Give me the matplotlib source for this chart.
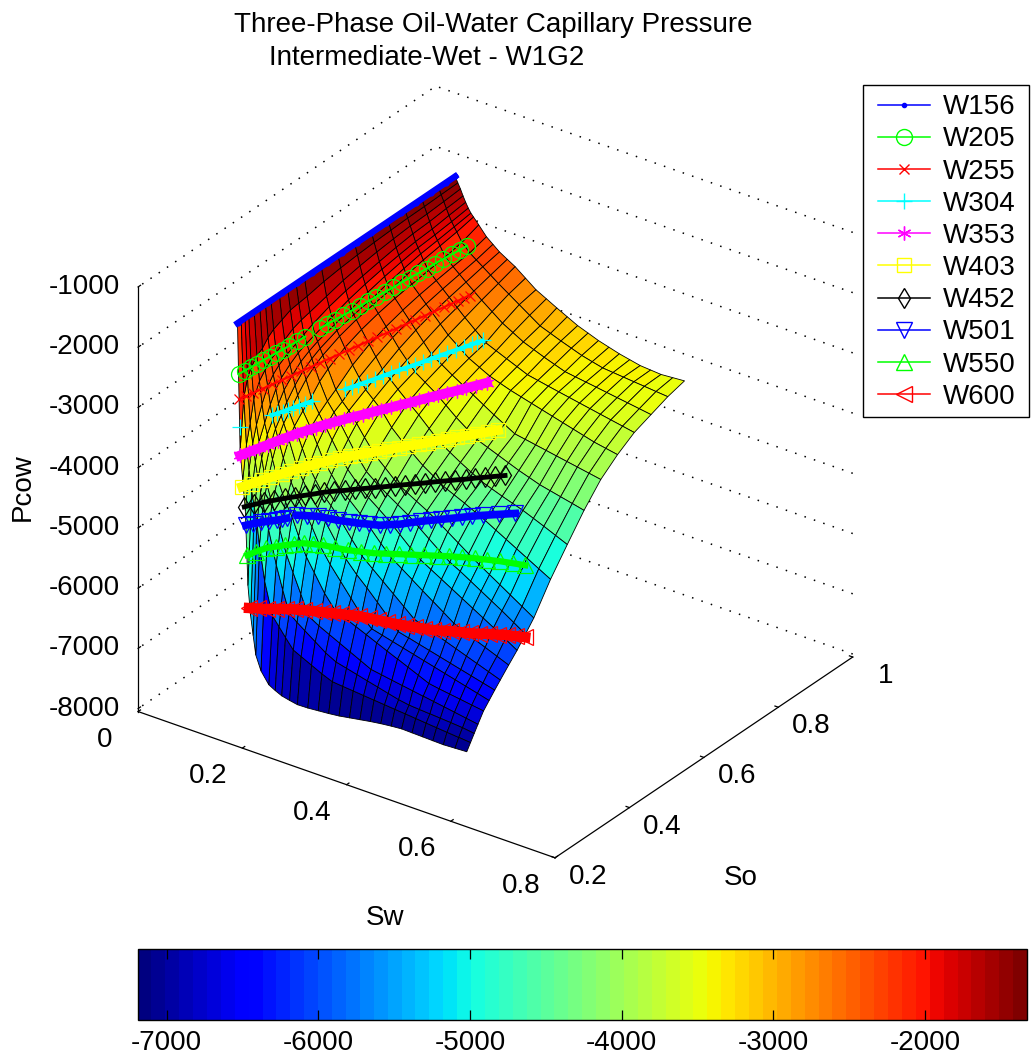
import matplotlib
matplotlib.use("Agg")
import numpy as np
import matplotlib.pyplot as plt
from matplotlib.cm import ScalarMappable
from matplotlib.colors import Normalize
from matplotlib.lines import Line2D
from matplotlib.patches import Rectangle
from mpl_toolkits.mplot3d import proj3d

plt.rcParams["font.family"] = ["Liberation Sans", "DejaVu Sans"]
plt.rcParams["axes.unicode_minus"] = False

FONT = 20
W, H = 1033, 1057

# surface grid (much coarser than the original mesh)
sw_nodes = [.155, .16, .165, .17, .175, .18, .185, .19, .2, .215, .2275, .24, .255, .27, .29, .31, .33, .35, .37, .39,
            .41, .43, .45, .47, .49, .51, .53, .55, .5725, .595]
so_nodes = [.25, .26, .27, .28, .295, .31, .325, .34, .3625, .385, .4075, .43, .475, .52, .565, .61, .655, .7, .745, .79, .835]
pcow_rows = [
    [-1340, -3440, -3920, -4405, -5630, -6110, -6430, -6740, -6975, -7160, -7220, -7270, -7300, -7325, -7320, -7305, -7290, -7270, -7240, -7210, -7180, -7155, -7135, -7120, -7125, -7130, -7135, -7140, -7130, -7120],
    [-1340, -2595, -3365, -3757, -4098, -4356, -4597, -4958, -5525, -6057, -6199, -6341, -6504, -6567, -6650, -6733, -6803, -6819, -6834, -6850, -6866, -6881, -6897, -6912, -6928, -6944, -6959, -6975, -6992, -7010],
    [-1340, -2318, -3050, -3365, -3659, -3923, -4142, -4328, -4693, -5246, -5629, -5975, -6086, -6179, -6302, -6426, -6517, -6560, -6604, -6648, -6691, -6735, -6778, -6807, -6820, -6832, -6845, -6857, -6873, -6900],
    [-1340, -2180, -2686, -3102, -3365, -3626, -3868, -4033, -4321, -4714, -5082, -5342, -5654, -5978, -6080, -6164, -6248, -6332, -6416, -6500, -6528, -6557, -6585, -6613, -6641, -6670, -6698, -6726, -6758, -6790],
    [-1340, -2053, -2457, -2822, -3120, -3295, -3482, -3678, -3983, -4312, -4520, -4800, -5101, -5315, -5600, -5822, -5897, -5971, -6045, -6120, -6195, -6269, -6344, -6418, -6493, -6523, -6548, -6573, -6602, -6630],
    [-1340, -1990, -2336, -2595, -2879, -3107, -3250, -3394, -3688, -4043, -4275, -4434, -4664, -4926, -5184, -5404, -5624, -5844, -6014, -6059, -6104, -6149, -6194, -6239, -6284, -6329, -6374, -6419, -6469, -6520],
    [-1340, -1876, -2226, -2457, -2686, -2914, -3095, -3207, -3443, -3835, -4050, -4252, -4416, -4593, -4866, -5101, -5292, -5455, -5632, -5810, -6000, -6044, -6089, -6133, -6177, -6222, -6266, -6310, -6360, -6410],
    [-1340, -1800, -2180, -2369, -2557, -2747, -2936, -3089, -3286, -3611, -3870, -4054, -4258, -4396, -4596, -4830, -5051, -5200, -5348, -5496, -5644, -5793, -5860, -5920, -5982, -6043, -6105, -6166, -6235, -6305],
    [-1340, -1737, -2053, -2276, -2435, -2595, -2747, -2898, -3129, -3365, -3600, -3835, -4020, -4193, -4341, -4503, -4687, -4878, -5054, -5174, -5294, -5415, -5535, -5656, -5776, -5855, -5925, -5994, -6072, -6150],
    [-1340, -1669, -1963, -2206, -2336, -2465, -2595, -2729, -2996, -3221, -3403, -3584, -3800, -3981, -4170, -4330, -4460, -4597, -4758, -4918, -5060, -5160, -5260, -5360, -5460, -5560, -5660, -5760, -5880, -6000],
    [-1340, -1647, -1912, -2135, -2270, -2382, -2494, -2606, -2828, -3108, -3254, -3406, -3615, -3823, -4052, -4191, -4308, -4419, -4532, -4668, -4805, -4941, -5069, -5162, -5265, -5369, -5472, -5575, -5700, -5825],
    [-1340, -1628, -1876, -2066, -2220, -2318, -2417, -2516, -2714, -3010, -3170, -3284, -3452, -3637, -3867, -4025, -4187, -4298, -4395, -4491, -4603, -4723, -4844, -4964, -5079, -5188, -5296, -5405, -5527, -5650],
    [-1340, -1570, -1800, -1958, -2117, -2228, -2307, -2388, -2547, -2790, -2957, -3123, -3244, -3365, -3600, -3765, -3907, -4049, -4163, -4277, -4355, -4432, -4517, -4601, -4697, -4792, -4887, -4982, -5089, -5195],
    [-1340, -1532, -1723, -1881, -2017, -2153, -2234, -2300, -2434, -2635, -2803, -2970, -3092, -3214, -3370, -3519, -3685, -3851, -3958, -4065, -4161, -4257, -4320, -4383, -4440, -4498, -4568, -4639, -4722, -4805],
    [-1340, -1504, -1669, -1824, -1943, -2061, -2180, -2238, -2353, -2526, -2672, -2817, -2963, -3108, -3225, -3342, -3485, -3629, -3752, -3875, -3942, -4009, -4076, -4143, -4200, -4258, -4297, -4336, -4380, -4425],
    [-1340, -1484, -1628, -1771, -1884, -1990, -2096, -2190, -2291, -2443, -2570, -2698, -2853, -3008, -3120, -3233, -3336, -3439, -3545, -3650, -3746, -3843, -3874, -3905, -3936, -3968, -3999, -4030, -4065, -4100],
    [-1340, -1468, -1596, -1723, -1838, -1933, -2028, -2123, -2243, -2378, -2491, -2604, -2740, -2877, -3010, -3142, -3230, -3317, -3375, -3432, -3478, -3525, -3571, -3617, -3664, -3710, -3756, -3803, -3839, -3875],
    [-1340, -1455, -1570, -1685, -1800, -1886, -1973, -2059, -2204, -2327, -2428, -2530, -2652, -2774, -2922, -3071, -3143, -3215, -3286, -3358, -3392, -3427, -3460, -3492, -3525, -3557, -3590, -3622, -3658, -3695],
    [-1340, -1450, -1559, -1669, -1778, -1861, -1937, -2013, -2165, -2282, -2373, -2464, -2568, -2673, -2803, -2933, -3028, -3123, -3190, -3256, -3315, -3374, -3400, -3425, -3450, -3476, -3502, -3527, -3556, -3585],
    [-1340, -1440, -1540, -1640, -1740, -1828, -1899, -1969, -2110, -2242, -2320, -2397, -2490, -2583, -2698, -2814, -2929, -3044, -3108, -3173, -3232, -3292, -3335, -3377, -3393, -3409, -3425, -3440, -3458, -3475],
    [-1340, -1432, -1517, -1618, -1708, -1790, -1858, -1907, -2007, -2161, -2249, -2337, -2414, -2490, -2621, -2752, -2842, -2933, -3019, -3105, -3168, -3232, -3281, -3330, -3367, -3404, -3417, -3430, -3415, -3400],
]

nan = float("nan")

# lines drawn over the surface, nan = part hidden by the surface
w156_sw = [.155] * 16
w156_so = [.25, .29, .33, .37, .41, .45, .49, .53, .57, .61, .65, .69, .73, .77, .81, .835]
w156_p = [-1340] * 16

w205_sw = [.157, .158, .160, .161, .162, .164, .165, .167, .168, .170, .171, nan, .174, .175, .177, .179, .181, .183, .184, .186, .188, .190, .191, .193, .195, .197, .198, .200, .202, .204, .205]
w205_so = [.25, .265, .28, .295, .31, .325, .34, .355, .37, .39, .41, nan, .445, .4625, .48, .50, .52, .54, .56, .58, .60, .62, .64, .66, .68, .70, .72, .74, .76, .78, .796]
w205_p = [-2180] * 31

w255_sw = [.158, .161, .164, .168, .172, .176, .180, .184, .188, .192, .196, .200, .204, .208, .212, .216, .220, .224, .228, .232, .236, .240, .244, .247, .250, .252, .255]
w255_so = [.25, .265, .28, .30, .32, .34, .36, .38, .40, .42, .44, .46, .48, .50, .52, .54, .56, .58, .60, .62, .64, .66, .68, .695, .71, .722, .734]
w255_p = [-2595] * 27

w304_sw = [.159, nan, .178, .181, .185, .188, .191, .194, .198, .202, nan, .222, .226, .230, .235, .240, .244, .249, .254, .259, .264, .269, .273, .278, .283, .288, .293, .298, .301, .304]
w304_so = [.25, nan, .31, .32, .33, .34, .35, .36, .37, .384, nan, .446, .458, .47, .485, .50, .515, .53, .545, .56, .575, .59, .605, .62, .635, .65, .665, .68, .69, .70]
w304_p = [-3050] * 30

w353_sw = [.160, .167, .175, .182, .189, .197, .204, .212, .219, .226, .234, .241, .248, .256, .263, .270, .278, .285, .293, .300, .307, .315, .322, .330, .337, .345, .353]
w353_so = [.25, .265, .28, .295, .31, .325, .34, .355, .37, .385, .40, .415, .43, .445, .46, .475, .49, .505, .52, .535, .55, .565, .58, .595, .61, .626, .643]
w353_p = [-3520, -3500, -3480, -3460, -3440, -3420, -3400, -3390, -3380, -3372] + [-3365] * 17

w403_sw = [.164, .173, .182, .191, .201, .210, .219, .228, .237, .246, .255, .264, .274, .283, .292, .301, .310, .319, .329, .338, .347, .356, .365, .374, .383, .393, .403]
w403_so = [.25, .2635, .277, .2905, .304, .3175, .331, .3445, .358, .3715, .385, .3985, .412, .4255, .439, .4525, .466, .4795, .493, .5065, .52, .5335, .547, .5605, .574, .5885, .603]
w403_p = [-4030, -4005, -3980, -3955, -3930, -3910, -3890, -3875, -3860, -3847] + [-3835] * 17

w452_sw = [.168, .179, .190, .201, .212, .223, .234, .245, .255, .266, .278, .288, .299, .310, .321, .332, .343, .354, .365, .375, .386, .397, .409, .419, .430, .441, .452]
w452_so = [.25, .2615, .273, .285, .297, .3085, .32, .3315, .343, .355, .367, .3785, .39, .4015, .413, .425, .437, .4485, .46, .4715, .483, .495, .507, .5185, .53, .5415, .553]
w452_p = [-4350, -4325, -4300, -4285, -4270, -4260, -4250, -4240] + [-4230] * 19

w501_sw = [.171, .180, .190, .199, .209, .215, .221, nan, .234, .246, .259, .271, .284, .297, .310, .322, .335, .347, .360, .372, .385, .397, .410, .423, .436, .448, .461, .481, .501]
w501_so = [.25, .2575, .265, .2725, .28, .285, .29, nan, .30, .31, .32, .33, .34, .35, .36, .37, .38, .39, .40, .41, .42, .43, .44, .45, .46, .47, .48, .496, .512]
w501_p = [-4646, -4623, -4600, -4586, -4573, -4559, -4545, nan, -4497, -4510, -4523, -4560, -4596, -4623, -4650, -4670, -4690, -4685, -4680, -4660, -4640, -4628, -4615, -4600, -4585, -4572, -4560, -4550, -4540]

w550_sw = [.174, .186, .199, .212, .225, .237, .250, .263, .276, .293, .310, .327, .345, .362, .379, .396, .413, .430, .447, .464, .482, .499, .516, .533, .550]
w550_so = [.25, .2575, .265, .2725, .28, .2875, .295, .3025, .31, .32, .33, .34, .35, .36, .37, .38, .39, .40, .41, .42, .43, .44, .45, .46, .47]
w550_p = [-5133, -5068, -5004, -4970, -4938, -4915, -4893, -4900, -4908, -4940, -4972, -4985, -4999, -4997, -4995, -4993, -4992, -4991, -4990, -4995, -5000, -5015, -5030, -5053, -5077]

w600_sw = [.177, .191, .205, .219, .233, .247, .262, .276, .290, .304, .318, .332, .346, .360, .374, .388, .403, .417, .431, .445, .459, .473, .487, .501, .515, .530, .544, .558, .572, .586, .600]
w600_so = [.25, .255, .26, .265, .27, .275, .28, .285, .29, .295, .30, .305, .31, .315, .32, .325, .33, .335, .34, .345, .35, .355, .36, .365, .37, .375, .38, .385, .39, .395, .40]
w600_p = [-6002, -5988, -5975, -5953, -5932, -5917, -5903, -5898, -5893, -5888, -5883, -5878, -5873, -5885, -5896, -5906, -5917, -5920, -5923, -5926, -5929, -5916, -5903, -5898, -5893, -5878, -5863, -5850, -5836, -5832, -5828]

line_names = ["W156", "W205", "W255", "W304", "W353", "W403", "W452", "W501", "W550", "W600"]
line_sw = [w156_sw, w205_sw, w255_sw, w304_sw, w353_sw, w403_sw, w452_sw, w501_sw, w550_sw, w600_sw]
line_so = [w156_so, w205_so, w255_so, w304_so, w353_so, w403_so, w452_so, w501_so, w550_so, w600_so]
line_p = [w156_p, w205_p, w255_p, w304_p, w353_p, w403_p, w452_p, w501_p, w550_p, w600_p]
line_colors = ["#0000ff", "#00ff00", "#ff0000", "#00ffff", "#ff00ff", "#ffff00", "#000000", "#0000ff", "#00ff00", "#ff0000"]
line_markers = [".", "o", "x", "+", (6, 2, 0), "s", "d", "v", "^", "<"]
marker_sizes = [7, 11.5, 7.5, 12, 10, 9.5, 10.5, 11.5, 11.5, 12]
# the original lines carry so many markers that they merge into bands
band_widths = [4.5, 1.5, 1.5, 3, 7, 7, 3.5, 5.5, 4.5, 7.5]

sw_ticks = [0, .2, .4, .6, .8]
sw_labels = ["0", "0.2", "0.4", "0.6", "0.8"]
so_ticks = [.2, .4, .6, .8, 1]
so_labels = ["0.2", "0.4", "0.6", "0.8", "1"]
z_ticks = [-8000, -7000, -6000, -5000, -4000, -3000, -2000, -1000]
cbar_ticks = [-7000, -6000, -5000, -4000, -3000, -2000]
c_min, c_max = -7193, -1326
Z_FLOOR, Z_TOP = -8050, -1000


def px_rect(x0, y0, x1, y1):
    # pixel box (y from the top) to figure fractions
    return [x0 / W, (H - y1) / H, (x1 - x0) / W, (y1 - y0) / H]


def label_at(ax, x, y, z, text, ha="center"):
    # 3D point through the axes projection, then plain text in the 2D data space
    x2, y2, _ = proj3d.proj_transform(x, y, z, ax.get_proj())
    ax.text2D(x2, y2, text, transform=ax.transData, fontsize=FONT, ha=ha, va="center")


def style_axes(ax):
    ax.set_xlim(0, .8, view_margin=0)
    ax.set_ylim(.2, 1, view_margin=0)
    ax.set_zlim(Z_FLOOR, Z_TOP, view_margin=0)
    ax.set_box_aspect((514, 509, 486))
    ax.set_xticks(sw_ticks, [""] * 5)
    ax.set_yticks(so_ticks, [""] * 5)
    ax.set_zticks(z_ticks, [""] * 8)
    ax.zaxis.set_ticks_position("lower")
    for axis in (ax.xaxis, ax.yaxis, ax.zaxis):
        axis.pane.fill = False
        axis.pane.set_edgecolor("none")
        axis._axinfo["tick"]["inward_factor"] = 0
        axis._axinfo["tick"]["outward_factor"] = .1
        axis._axinfo["tick"]["linewidth"] = {True: .9, False: .9}
        axis.line.set_linewidth(.9)
    for axis in (ax.xaxis, ax.yaxis):
        axis._axinfo["grid"]["color"] = (1, 1, 1, 0)
    ax.zaxis._axinfo["grid"].update(color="k", linewidth=1.1, linestyle=(0, (1, 5.5)))

    for t, s in zip(sw_ticks, sw_labels):
        label_at(ax, t + .0095, .0955, Z_FLOOR, s)
    for t, s in zip(so_ticks, so_labels):
        label_at(ax, .877, t - .0195, Z_FLOOR, s)
    for t in z_ticks:
        label_at(ax, -.0227, .1835, t, str(t), ha="right")


def main():
    fig = plt.figure(figsize=(W / 100, H / 100), dpi=100, facecolor="white")
    ax = fig.add_axes(px_rect(61, 60.4, 907, 906.4), projection="3d", proj_type="ortho",
                      computed_zorder=False)
    ax.view_init(elev=29.1, azim=-54.2)
    ax.set_facecolor("none")
    style_axes(ax)

    norm = Normalize(c_min, c_max)
    cmap = plt.get_cmap("jet", 64)

    X, Y = np.meshgrid(sw_nodes, so_nodes)
    Z = np.array(pcow_rows, dtype=float)
    ax.plot_surface(X, Y, Z, rstride=1, cstride=1, cmap=cmap, norm=norm, shade=False,
                    edgecolor="k", linewidth=.6, zorder=1)

    handles = []
    for i, name in enumerate(line_names):
        dot = line_markers[i] == "."
        ax.plot(line_sw[i], line_so[i], line_p[i], color=line_colors[i], lw=band_widths[i],
                marker=line_markers[i], ms=marker_sizes[i], mfc=line_colors[i] if dot else "none",
                mew=.9, zorder=5 + i)
        handles.append(Line2D([], [], color=line_colors[i], lw=1.1, marker=line_markers[i],
                              ms=6 if dot else marker_sizes[i], mfc=line_colors[i] if dot else "none", mew=1))

    x0, y0, w0, h0 = px_rect(863, 85, 1029, 417)
    fig.add_artist(Rectangle((x0, y0), w0, h0, transform=fig.transFigure, facecolor="white",
                             edgecolor="k", linewidth=1, zorder=4))
    leg = fig.legend(handles, line_names, loc="upper left", bbox_to_anchor=(863 / W, 1 - 79 / H),
                     bbox_transform=fig.transFigure, borderaxespad=0, fontsize=FONT, frameon=False,
                     labelspacing=.222, handlelength=1.85, handletextpad=.48, borderpad=.55, numpoints=1)
    leg.set_zorder(5)

    cax = fig.add_axes(px_rect(137.5, 949, 1027, 1020))
    sm = ScalarMappable(norm=norm, cmap=cmap)
    cbar = fig.colorbar(sm, cax=cax, orientation="horizontal", ticks=cbar_ticks)
    cax.tick_params(axis="x", direction="in", top=True, bottom=True, length=7, width=.9,
                    labelsize=FONT, pad=7)
    cax.set_xticklabels([str(t) for t in cbar_ticks])
    cbar.outline.set_linewidth(1)

    fig.text(234 / W, 1 - 25 / H, "Three-Phase Oil-Water Capillary Pressure", fontsize=FONT, va="center")
    fig.text(269 / W, 1 - 58 / H, "Intermediate-Wet - W1G2", fontsize=FONT, va="center")
    fig.text(385 / W, 1 - 918 / H, "Sw", fontsize=FONT, ha="center", va="center")
    fig.text(741 / W, 1 - 878 / H, "So", fontsize=FONT, ha="center", va="center")
    fig.text(23 / W, 1 - 487 / H, "Pcow", fontsize=FONT, ha="center", va="center", rotation=90)

    fig.savefig("out.png", dpi=100)


if __name__ == "__main__":
    main()
